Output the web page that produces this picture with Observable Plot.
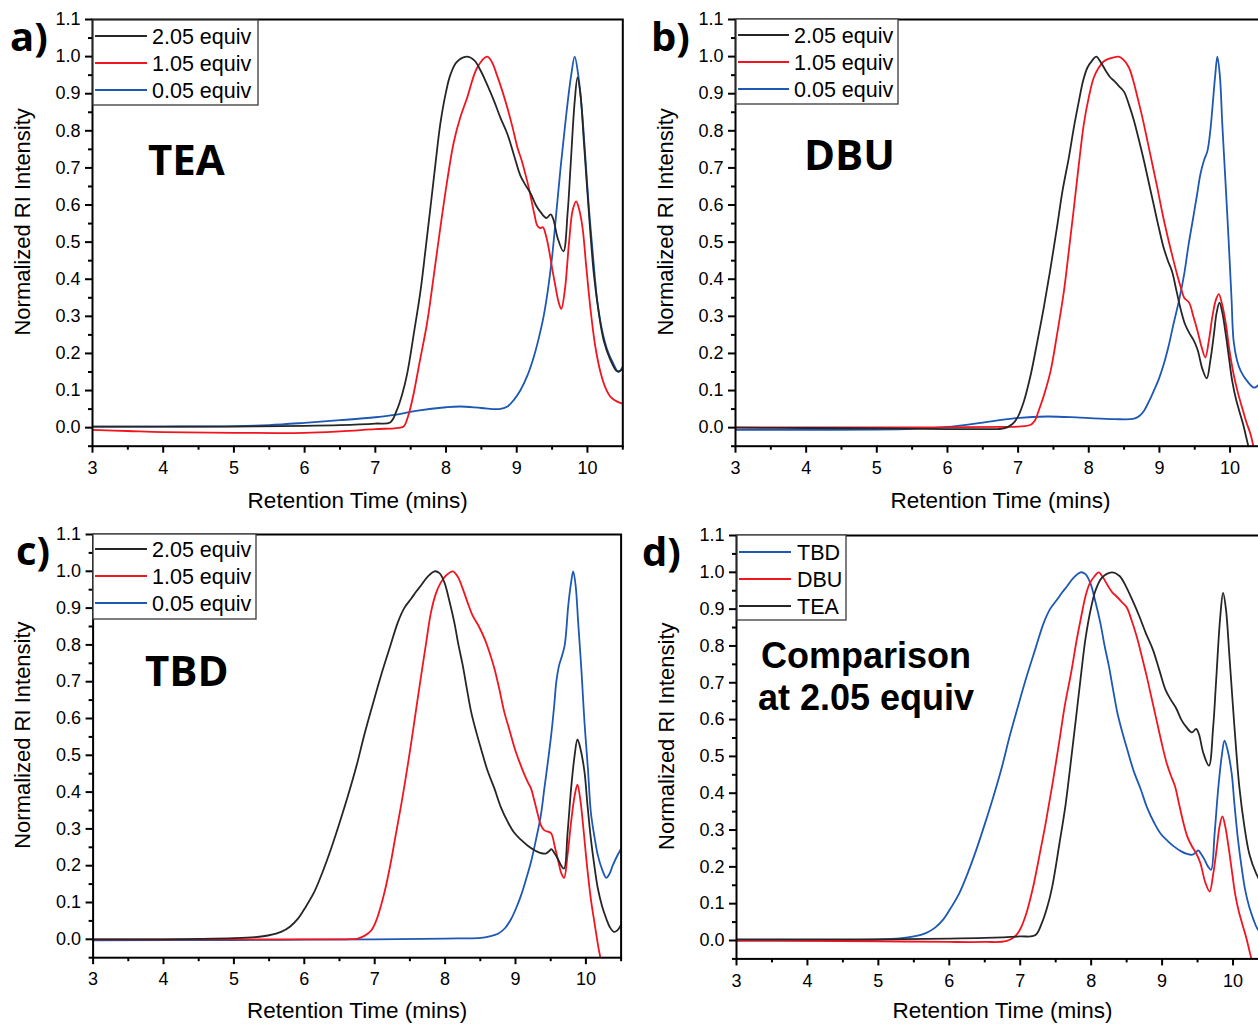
<!DOCTYPE html>
<html><head><meta charset="utf-8">
<script src="https://cdn.jsdelivr.net/npm/d3@7"></script>
<script src="https://cdn.jsdelivr.net/npm/@observablehq/plot@0.6"></script>
<style>
html,body{margin:0;padding:0;background:#fff;overflow:hidden;}
#fig{position:relative;width:1258px;height:1024px;overflow:hidden;}
#fig > svg{position:absolute;}
</style></head><body><div id="fig"></div>
<script>
// ---------- tick labels ----------
const xTicks = [3, 4, 5, 6, 7, 8, 9, 10];
const xMinorTicks = [3.5, 4.5, 5.5, 6.5, 7.5, 8.5, 9.5, 10.5];
const yTicks = [0.0, 0.1, 0.2, 0.3, 0.4, 0.5, 0.6, 0.7, 0.8, 0.9, 1.0, 1.1];
const yMinorTicks = [-0.05, 0.05, 0.15, 0.25, 0.35, 0.45, 0.55, 0.65, 0.75, 0.85, 0.95, 1.05];
const xTitle = "Retention Time (mins)";
const yTitle = "Normalized RI Intensity";

// ---------- series: [retention time (min), normalized RI intensity] ----------
const TEA_205 = [[3,0.003],[4,0.003],[5,0.003],[6,0.005],[6.5,0.007],[7,0.011],[7.21,0.014],[7.3,0.045],[7.38,0.09],[7.45,0.145],[7.55,0.26],[7.64,0.37],[7.71,0.48],[7.78,0.594],[7.85,0.71],[7.92,0.82],[8.0,0.905],[8.06,0.95],[8.15,0.985],[8.29,1.0],[8.4,0.99],[8.49,0.962],[8.58,0.925],[8.68,0.88],[8.77,0.835],[8.87,0.79],[8.96,0.735],[9.05,0.68],[9.12,0.655],[9.2,0.63],[9.27,0.6],[9.34,0.58],[9.42,0.565],[9.48,0.575],[9.52,0.56],[9.58,0.51],[9.66,0.475],[9.72,0.58],[9.76,0.7],[9.82,0.88],[9.86,0.944],[9.9,0.9],[9.95,0.77],[10.02,0.58],[10.09,0.415],[10.16,0.31],[10.23,0.235],[10.32,0.185],[10.42,0.152],[10.5,0.158]];
const TEA_105 = [[3,-0.006],[3.5,-0.009],[4,-0.012],[5,-0.014],[6,-0.014],[6.5,-0.01],[7,-0.004],[7.3,-0.001],[7.4,0.003],[7.47,0.035],[7.54,0.09],[7.63,0.18],[7.73,0.28],[7.82,0.4],[7.92,0.54],[8.02,0.67],[8.11,0.77],[8.2,0.835],[8.3,0.89],[8.44,0.97],[8.58,1.0],[8.65,0.985],[8.72,0.95],[8.8,0.905],[8.87,0.86],[8.94,0.81],[9.01,0.755],[9.07,0.72],[9.12,0.685],[9.16,0.655],[9.2,0.62],[9.25,0.575],[9.29,0.545],[9.33,0.538],[9.37,0.54],[9.41,0.52],[9.45,0.486],[9.5,0.43],[9.55,0.378],[9.59,0.34],[9.63,0.32],[9.68,0.37],[9.74,0.5],[9.79,0.585],[9.84,0.61],[9.88,0.59],[9.93,0.54],[9.98,0.44],[10.04,0.325],[10.11,0.22],[10.19,0.145],[10.26,0.105],[10.33,0.082],[10.42,0.07],[10.5,0.065]];
const TEA_005 = [[3,0.003],[4,0.003],[5,0.004],[5.5,0.007],[6,0.013],[6.5,0.02],[7,0.028],[7.3,0.035],[7.6,0.046],[8,0.055],[8.2,0.057],[8.5,0.053],[8.75,0.05],[8.87,0.057],[8.96,0.075],[9.05,0.1],[9.15,0.14],[9.24,0.19],[9.31,0.24],[9.38,0.3],[9.44,0.37],[9.5,0.46],[9.56,0.58],[9.62,0.7],[9.67,0.79],[9.71,0.86],[9.77,0.95],[9.82,1.0],[9.87,0.95],[9.92,0.86],[9.97,0.73],[10.02,0.594],[10.08,0.46],[10.14,0.34],[10.21,0.26],[10.28,0.21],[10.36,0.175],[10.44,0.15],[10.5,0.165]];

const DBU_205 = [[3,0.0],[4,-0.001],[5,-0.002],[6,-0.004],[6.5,-0.004],[6.8,-0.002],[6.92,0.01],[6.99,0.027],[7.08,0.07],[7.18,0.144],[7.27,0.23],[7.36,0.32],[7.45,0.42],[7.55,0.54],[7.63,0.64],[7.72,0.73],[7.79,0.81],[7.86,0.88],[7.92,0.935],[7.98,0.97],[8.05,0.99],[8.105,1.0],[8.17,0.985],[8.24,0.962],[8.3,0.945],[8.355,0.935],[8.43,0.92],[8.5,0.905],[8.57,0.87],[8.64,0.827],[8.71,0.775],[8.78,0.72],[8.85,0.66],[8.92,0.6],[8.99,0.54],[9.06,0.485],[9.12,0.45],[9.18,0.42],[9.24,0.37],[9.3,0.32],[9.36,0.28],[9.42,0.256],[9.48,0.237],[9.54,0.21],[9.61,0.157],[9.67,0.133],[9.72,0.18],[9.77,0.25],[9.81,0.31],[9.85,0.337],[9.89,0.31],[9.94,0.25],[9.99,0.18],[10.03,0.126],[10.08,0.08],[10.13,0.045],[10.19,0.005],[10.24,-0.035],[10.29,-0.075]];
const DBU_105 = [[3,0.001],[5,0.001],[6,0.001],[6.8,0.002],[7.0,0.003],[7.18,0.008],[7.24,0.02],[7.29,0.045],[7.37,0.09],[7.46,0.153],[7.55,0.25],[7.65,0.37],[7.72,0.48],[7.79,0.593],[7.86,0.71],[7.93,0.818],[8.0,0.89],[8.07,0.943],[8.14,0.97],[8.21,0.987],[8.3,0.995],[8.425,1.0],[8.5,0.99],[8.57,0.97],[8.63,0.935],[8.69,0.89],[8.76,0.835],[8.83,0.773],[8.9,0.71],[8.97,0.647],[9.04,0.58],[9.11,0.52],[9.18,0.465],[9.25,0.413],[9.3,0.38],[9.35,0.35],[9.42,0.337],[9.48,0.3],[9.54,0.26],[9.6,0.215],[9.65,0.189],[9.7,0.235],[9.75,0.3],[9.8,0.345],[9.84,0.36],[9.89,0.33],[9.94,0.28],[9.99,0.21],[10.05,0.144],[10.11,0.095],[10.17,0.054],[10.23,0.015],[10.29,-0.018],[10.34,-0.06]];
const DBU_005 = [[3,-0.006],[4,-0.006],[5,-0.005],[5.5,-0.003],[6,0.002],[6.47,0.013],[6.94,0.025],[7.41,0.03],[7.88,0.027],[8.36,0.023],[8.64,0.024],[8.72,0.032],[8.78,0.045],[8.85,0.07],[8.92,0.099],[8.99,0.13],[9.06,0.17],[9.13,0.22],[9.2,0.28],[9.28,0.345],[9.35,0.413],[9.41,0.49],[9.47,0.557],[9.53,0.625],[9.58,0.683],[9.63,0.72],[9.68,0.746],[9.72,0.8],[9.75,0.862],[9.79,0.95],[9.82,1.0],[9.855,0.95],[9.89,0.818],[9.93,0.68],[9.98,0.503],[10.02,0.35],[10.05,0.234],[10.1,0.18],[10.15,0.153],[10.24,0.126],[10.34,0.108],[10.42,0.118],[10.5,0.135]];

const TBD_205 = [[3,0.0],[4,0.0],[4.5,0.001],[5,0.003],[5.3,0.006],[5.5,0.011],[5.67,0.02],[5.8,0.035],[5.91,0.056],[6.02,0.088],[6.14,0.128],[6.26,0.183],[6.38,0.246],[6.5,0.316],[6.62,0.39],[6.74,0.47],[6.85,0.554],[6.97,0.637],[7.09,0.717],[7.21,0.79],[7.33,0.862],[7.42,0.9],[7.52,0.926],[7.59,0.945],[7.66,0.962],[7.75,0.985],[7.85,1.0],[7.92,0.995],[7.99,0.97],[8.06,0.92],[8.13,0.862],[8.19,0.8],[8.25,0.745],[8.31,0.68],[8.37,0.618],[8.44,0.565],[8.51,0.518],[8.6,0.46],[8.7,0.41],[8.79,0.36],[8.89,0.319],[8.98,0.29],[9.08,0.27],[9.17,0.255],[9.27,0.242],[9.35,0.235],[9.43,0.233],[9.48,0.24],[9.51,0.245],[9.55,0.235],[9.6,0.219],[9.65,0.2],[9.69,0.192],[9.74,0.29],[9.79,0.41],[9.84,0.5],[9.88,0.543],[9.92,0.52],[9.98,0.455],[10.02,0.37],[10.07,0.274],[10.12,0.2],[10.17,0.138],[10.23,0.09],[10.29,0.056],[10.34,0.033],[10.4,0.02],[10.45,0.025],[10.5,0.04]];
const TBD_105 = [[3,0.0],[5,0.0],[6,0.0],[6.6,0.0],[6.76,0.002],[6.86,0.01],[6.95,0.024],[7.02,0.05],[7.09,0.092],[7.16,0.145],[7.23,0.21],[7.3,0.285],[7.375,0.364],[7.45,0.45],[7.52,0.536],[7.59,0.627],[7.66,0.717],[7.73,0.805],[7.8,0.889],[7.87,0.94],[7.94,0.97],[8.02,0.99],[8.11,1.0],[8.18,0.985],[8.25,0.953],[8.32,0.915],[8.39,0.88],[8.48,0.85],[8.56,0.817],[8.63,0.78],[8.7,0.736],[8.77,0.68],[8.84,0.618],[8.92,0.565],[8.99,0.518],[9.06,0.48],[9.13,0.446],[9.18,0.425],[9.22,0.41],[9.27,0.375],[9.32,0.337],[9.36,0.31],[9.41,0.296],[9.47,0.292],[9.51,0.287],[9.56,0.25],[9.6,0.219],[9.65,0.18],[9.69,0.167],[9.74,0.23],[9.79,0.319],[9.84,0.39],[9.88,0.42],[9.92,0.38],[9.955,0.32],[10.0,0.23],[10.025,0.183],[10.07,0.11],[10.12,0.047],[10.19,-0.035],[10.23,-0.07]];
const TBD_005 = [[3,-0.003],[5,-0.002],[6,-0.001],[7,0.0],[8,0.002],[8.51,0.004],[8.63,0.008],[8.75,0.015],[8.85,0.03],[8.94,0.056],[9.01,0.085],[9.08,0.12],[9.15,0.163],[9.22,0.21],[9.29,0.27],[9.36,0.337],[9.41,0.41],[9.46,0.482],[9.51,0.56],[9.55,0.636],[9.58,0.7],[9.62,0.745],[9.66,0.77],[9.7,0.8],[9.75,0.908],[9.79,0.97],[9.82,1.0],[9.855,0.96],[9.89,0.862],[9.94,0.72],[9.98,0.59],[10.03,0.46],[10.07,0.346],[10.12,0.28],[10.17,0.228],[10.23,0.19],[10.29,0.167],[10.34,0.18],[10.38,0.2],[10.44,0.225],[10.5,0.246]];

// ---------- legend labels / colours ----------
const equivLabels = ["2.05 equiv", "1.05 equiv", "0.05 equiv"];
const baseLabels = ["TBD", "DBU", "TEA"];
const BLACK = "#262626", RED = "#f2141e", BLUE = "#1c58b4";

const panels = [
  {letter: "a)", name: "TEA", series: [TEA_005, TEA_105, TEA_205], colors: [BLUE, RED, BLACK],
   legend: equivLabels, legendColors: [BLACK, RED, BLUE],
   left: 0, top: 0, width: 631, height: 516, mt: 19, mb: 70.3, ml: 92, mr: 8.7, titleDy: 55,
   box: [93, 20, 165, 85], rows: [36, 63, 90], lineX: [95, 147], textX: 152,
   letterPos: [10, 51], namePos: [148, 175]},
  {letter: "b)", name: "DBU", series: [DBU_005, DBU_105, DBU_205], colors: [BLUE, RED, BLACK],
   legend: equivLabels, legendColors: [BLACK, RED, BLUE],
   left: 630, top: 0, width: 643, height: 516, mt: 19, mb: 70.3, ml: 105, mr: 8.1, titleDy: 55,
   box: [736, 19, 162, 85], rows: [35, 62, 89], lineX: [738, 789], textX: 794,
   letterPos: [651, 51], namePos: [804, 170]},
  {letter: "c)", name: "TBD", series: [TBD_005, TBD_105, TBD_205], colors: [BLUE, RED, BLACK],
   legend: equivLabels, legendColors: [BLACK, RED, BLUE],
   left: 0, top: 515, width: 629, height: 509, mt: 19, mb: 66.8, ml: 92.6, mr: 8.4, titleDy: 53,
   box: [93, 534, 163, 85], rows: [549, 576, 603], lineX: [95, 147], textX: 152,
   letterPos: [16, 565], namePos: [145, 686]},
  {letter: "d)", name: null, series: [TBD_205, DBU_205, TEA_205], colors: [BLUE, RED, BLACK],
   legend: baseLabels, legendColors: [BLUE, RED, BLACK],
   left: 630, top: 515, width: 646, height: 509, mt: 20, mb: 65.6, ml: 106, mr: 8.0, titleDy: 52,
   box: [737, 535, 109, 85], rows: [552, 579, 606], lineX: [739, 791], textX: 797,
   letterPos: [642, 566], namePos: null}
];

const fig = document.getElementById("fig");
const FONT = "'Liberation Sans', Arial, sans-serif";

for (const p of panels) {
  const lines = p.series.map((s, i) => Plot.line(s, {
    x: d => d[0], y: d => d[1], stroke: p.colors[i], strokeWidth: 1.8,
    curve: "catmull-rom", clip: true
  }));
  const chart = Plot.plot({
    width: p.width, height: p.height,
    marginTop: p.mt, marginBottom: p.mb, marginLeft: p.ml, marginRight: p.mr,
    x: {domain: [3, 10.5]},
    y: {domain: [-0.05, 1.1]},
    style: {fontFamily: FONT, fontSize: "18px", color: "black", background: "transparent", overflow: "visible"},
    marks: [
      ...lines,
      Plot.axisX({ticks: xTicks, tickSize: 7, tickPadding: 8, strokeWidth: 2, fontSize: 18, tickFormat: d => String(d), label: null}),
      Plot.axisX({ticks: xMinorTicks, tickSize: 4, strokeWidth: 2, tickFormat: () => "", label: null}),
      Plot.axisY({ticks: yTicks, tickSize: 7, tickPadding: 5, strokeWidth: 2, fontSize: 18, tickFormat: d3.format(".1f"), label: null}),
      Plot.axisY({ticks: yMinorTicks, tickSize: 4, strokeWidth: 2, tickFormat: () => "", label: null}),
      Plot.frame({stroke: "black", strokeWidth: 2}),
      Plot.text([xTitle], {frameAnchor: "bottom", dy: p.titleDy, lineAnchor: "middle", fontSize: 22.5, fill: "black", text: d => d}),
      Plot.text([yTitle], {frameAnchor: "left", dx: -70, dy: -11, rotate: -90, lineAnchor: "middle", textAnchor: "middle", fontSize: 22, fill: "black", text: d => d})
    ]
  });
  chart.style.left = p.left + "px";
  chart.style.top = p.top + "px";
  fig.appendChild(chart);
}

// ---------- overlay: panel letters, names, legends ----------
const ns = "http://www.w3.org/2000/svg";
const ov = document.createElementNS(ns, "svg");
ov.setAttribute("width", 1258); ov.setAttribute("height", 1024);
ov.style.left = "0px"; ov.style.top = "0px";
fig.appendChild(ov);
function el(tag, attrs, text) {
  const e = document.createElementNS(ns, tag);
  for (const k in attrs) e.setAttribute(k, attrs[k]);
  if (text != null) e.textContent = text;
  ov.appendChild(e);
  return e;
}
for (const p of panels) {
  el("text", {x: p.letterPos[0], y: p.letterPos[1], "font-family": "'Open Sans', 'Noto Sans', sans-serif", "font-weight": 700, "font-size": 40, fill: "black"}, p.letter);
  if (p.name) el("text", {x: p.namePos[0], y: p.namePos[1], "font-family": "'Open Sans', 'Noto Sans', sans-serif", "font-weight": 700, "font-size": 42, fill: "black"}, p.name);
  const [bx, by, bw, bh] = p.box;
  el("rect", {x: bx, y: by, width: bw, height: bh, fill: "white", stroke: "#3a3a3a", "stroke-width": 1.3});
  p.legend.forEach((lab, i) => {
    el("line", {x1: p.lineX[0], x2: p.lineX[1], y1: p.rows[i], y2: p.rows[i], stroke: p.legendColors[i], "stroke-width": 2});
    el("text", {x: p.textX, y: p.rows[i], dy: "0.36em", "font-family": FONT, "font-size": 21.5, fill: "black"}, lab);
  });
}
el("text", {x: 866, y: 668, "text-anchor": "middle", "font-family": FONT, "font-weight": 700, "font-size": 36, fill: "black"}, "Comparison");
el("text", {x: 866, y: 710, "text-anchor": "middle", "font-family": FONT, "font-weight": 700, "font-size": 36, fill: "black"}, "at 2.05 equiv");
</script></body></html>
